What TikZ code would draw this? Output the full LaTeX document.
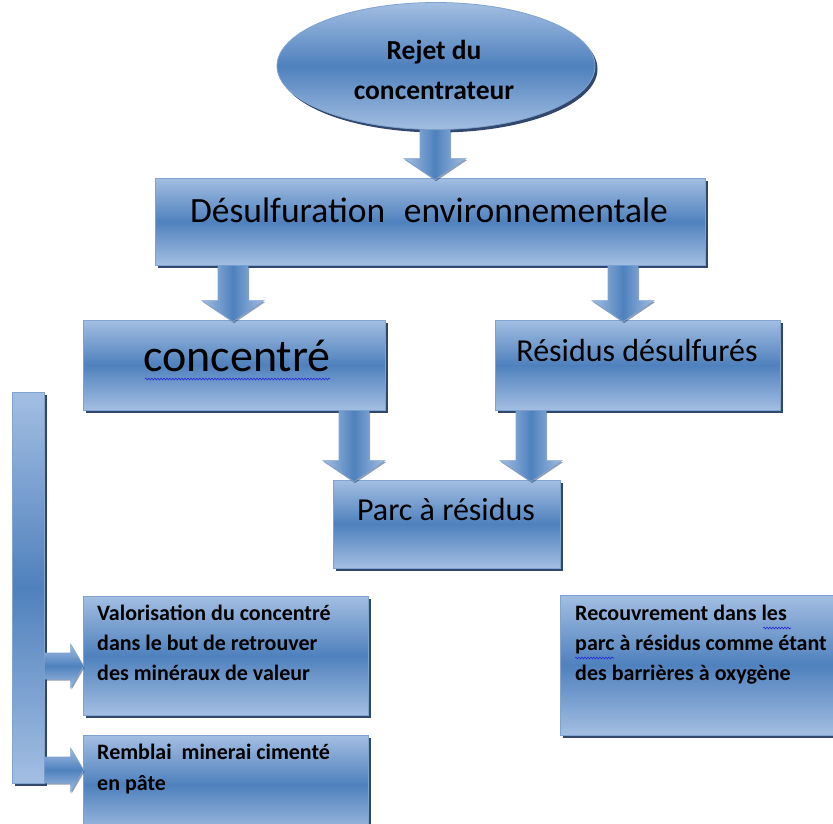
\documentclass[tikz,border=0pt]{standalone}
\usepackage{fontspec}
\setmainfont{Carlito}
\usetikzlibrary{shapes.geometric,shadows,calc,decorations.pathmorphing}
\definecolor{lightb}{RGB}{163,190,226}
\definecolor{darkb}{RGB}{79,129,189}
\definecolor{edgeb}{RGB}{128,163,208}
\definecolor{shadowb}{RGB}{38,62,100}
\definecolor{spellb}{RGB}{40,40,220}
\tikzset{
  x=1pt, y=-1pt,
  boxshade/.style={top color=lightb, bottom color=lightb, middle color=darkb,
    draw=edgeb, line width=0.8pt,
    drop shadow={shadow xshift=2.5pt, shadow yshift=-3pt, fill=shadowb, opacity=0.95}},
  panel/.style={boxshade, rectangle, inner sep=0pt},
  oval/.style={boxshade, ellipse, inner sep=0pt},
  arrowv/.style={left color=lightb, right color=lightb, middle color=darkb,
    draw=edgeb, line width=0.6pt,
    drop shadow={shadow xshift=1pt, shadow yshift=-1.5pt, fill=shadowb, opacity=0.5}},
  arrowh/.style={top color=lightb, bottom color=lightb, middle color=darkb,
    draw=edgeb, line width=0.6pt,
    drop shadow={shadow xshift=1pt, shadow yshift=-1.5pt, fill=shadowb, opacity=0.5}},
  txt/.style={inner sep=0pt, text=black},
  spell/.style={draw=spellb, line width=0.6pt, decorate,
    decoration={snake, amplitude=0.9pt, segment length=3pt}}
}
% vertical block arrow: #1 = x (pt), #2 = start point, #3 = end point
\newcommand\arrdown[3]{%
  \path[arrowv] let \p1=(#2), \p2=(#3) in
    (#1pt-15pt,\y1) -- (#1pt+15pt,\y1) -- (#1pt+15pt,\y2+19pt) -- (#1pt+31pt,\y2+19pt)
    -- (#1pt,\y2-2pt) -- (#1pt-31pt,\y2+19pt) -- (#1pt-15pt,\y2+19pt) -- cycle;}
% horizontal block arrow: #1 = y (px, downward), #2 = start point, #3 = end point
\newcommand\arrright[3]{%
  \path[arrowh] let \p1=(#2), \p2=(#3) in
    (\x1,-#1pt+13pt) -- (\x2-12pt,-#1pt+13pt) -- (\x2-12pt,-#1pt+22pt) -- (\x2+1pt,-#1pt)
    -- (\x2-12pt,-#1pt-22pt) -- (\x2-12pt,-#1pt-13pt) -- (\x1,-#1pt-13pt) -- cycle;}
\begin{document}
\begin{tikzpicture}
\useasboundingbox (0,0) rectangle (833,823);

% boxes
\node[oval, minimum width=318pt, minimum height=127pt] (rejet) at (436,66) {};
\node[panel, minimum width=550pt, minimum height=87pt] (desulf) at (430,221.5) {};
\node[panel, minimum width=302pt, minimum height=90pt] (conc) at (234,365) {};
\node[panel, minimum width=285pt, minimum height=90pt] (resid) at (637.5,365) {};
\node[panel, minimum width=227pt, minimum height=88pt] (parc) at (446.5,524) {};
\node[panel, minimum width=32pt, minimum height=391pt] (bar) at (28,587.5) {};
\node[panel, minimum width=285pt, minimum height=119pt] (valor) at (225.5,655.5) {};
\node[panel, minimum width=285pt, minimum height=100pt] (rembl) at (225.5,785) {};
\node[panel, minimum width=285pt, minimum height=140pt] (recouv) at (702.5,665) {};

% block arrows
\arrdown{435}{rejet.south}{desulf.north}
\arrdown{233}{desulf.south}{conc.north}
\arrdown{623}{desulf.south}{resid.north}
\arrdown{354}{conc.south}{parc.north}
\arrdown{531}{resid.south}{parc.north}
\arrright{666}{bar.east}{valor.west}
\arrright{770}{bar.east}{rembl.west}

% texts
\node[txt, align=center, font=\fontsize{27.5}{40}\selectfont\bfseries] (trejet) at (434,70)
  {Rejet du\\concentrateur};
\node[txt, font=\fontsize{35.5}{40}\selectfont] (tdesulf) at (429,210)
  {Désulfuration\hspace{0.3em} environnementale};
\node[txt, font=\fontsize{46}{52}\selectfont] (tconc) at (237,356) {concentré};
\node[txt, font=\fontsize{32}{38}\selectfont] (tresid) at (637,350) {Résidus désulfurés};
\node[txt, font=\fontsize{32}{38}\selectfont] (tparc) at (446,509) {Parc à résidus};
\node[txt, anchor=north west, align=left, font=\fontsize{22}{30}\selectfont\bfseries] (tvalor) at (97,605)
  {Valorisation du concentré\\dans le but de retrouver\\des minéraux de valeur};
\node[txt, anchor=north west, align=left, font=\fontsize{22}{31}\selectfont\bfseries] (trembl) at (97,744)
  {Remblai\ \ minerai cimenté\\en pâte};
\node[txt, anchor=north west, align=left, font=\fontsize{22}{30}\selectfont\bfseries] (trecouv) at (575,605)
  {Recouvrement dans les\\parc à résidus comme étant\\des barrières à oxygène};

% spell-check underlines
\draw[spell] (145,379) -- (330,379);
\draw[spell] (763,628) -- (791,628);
\draw[spell] (575,658) -- (614,658);
\end{tikzpicture}
\end{document}
